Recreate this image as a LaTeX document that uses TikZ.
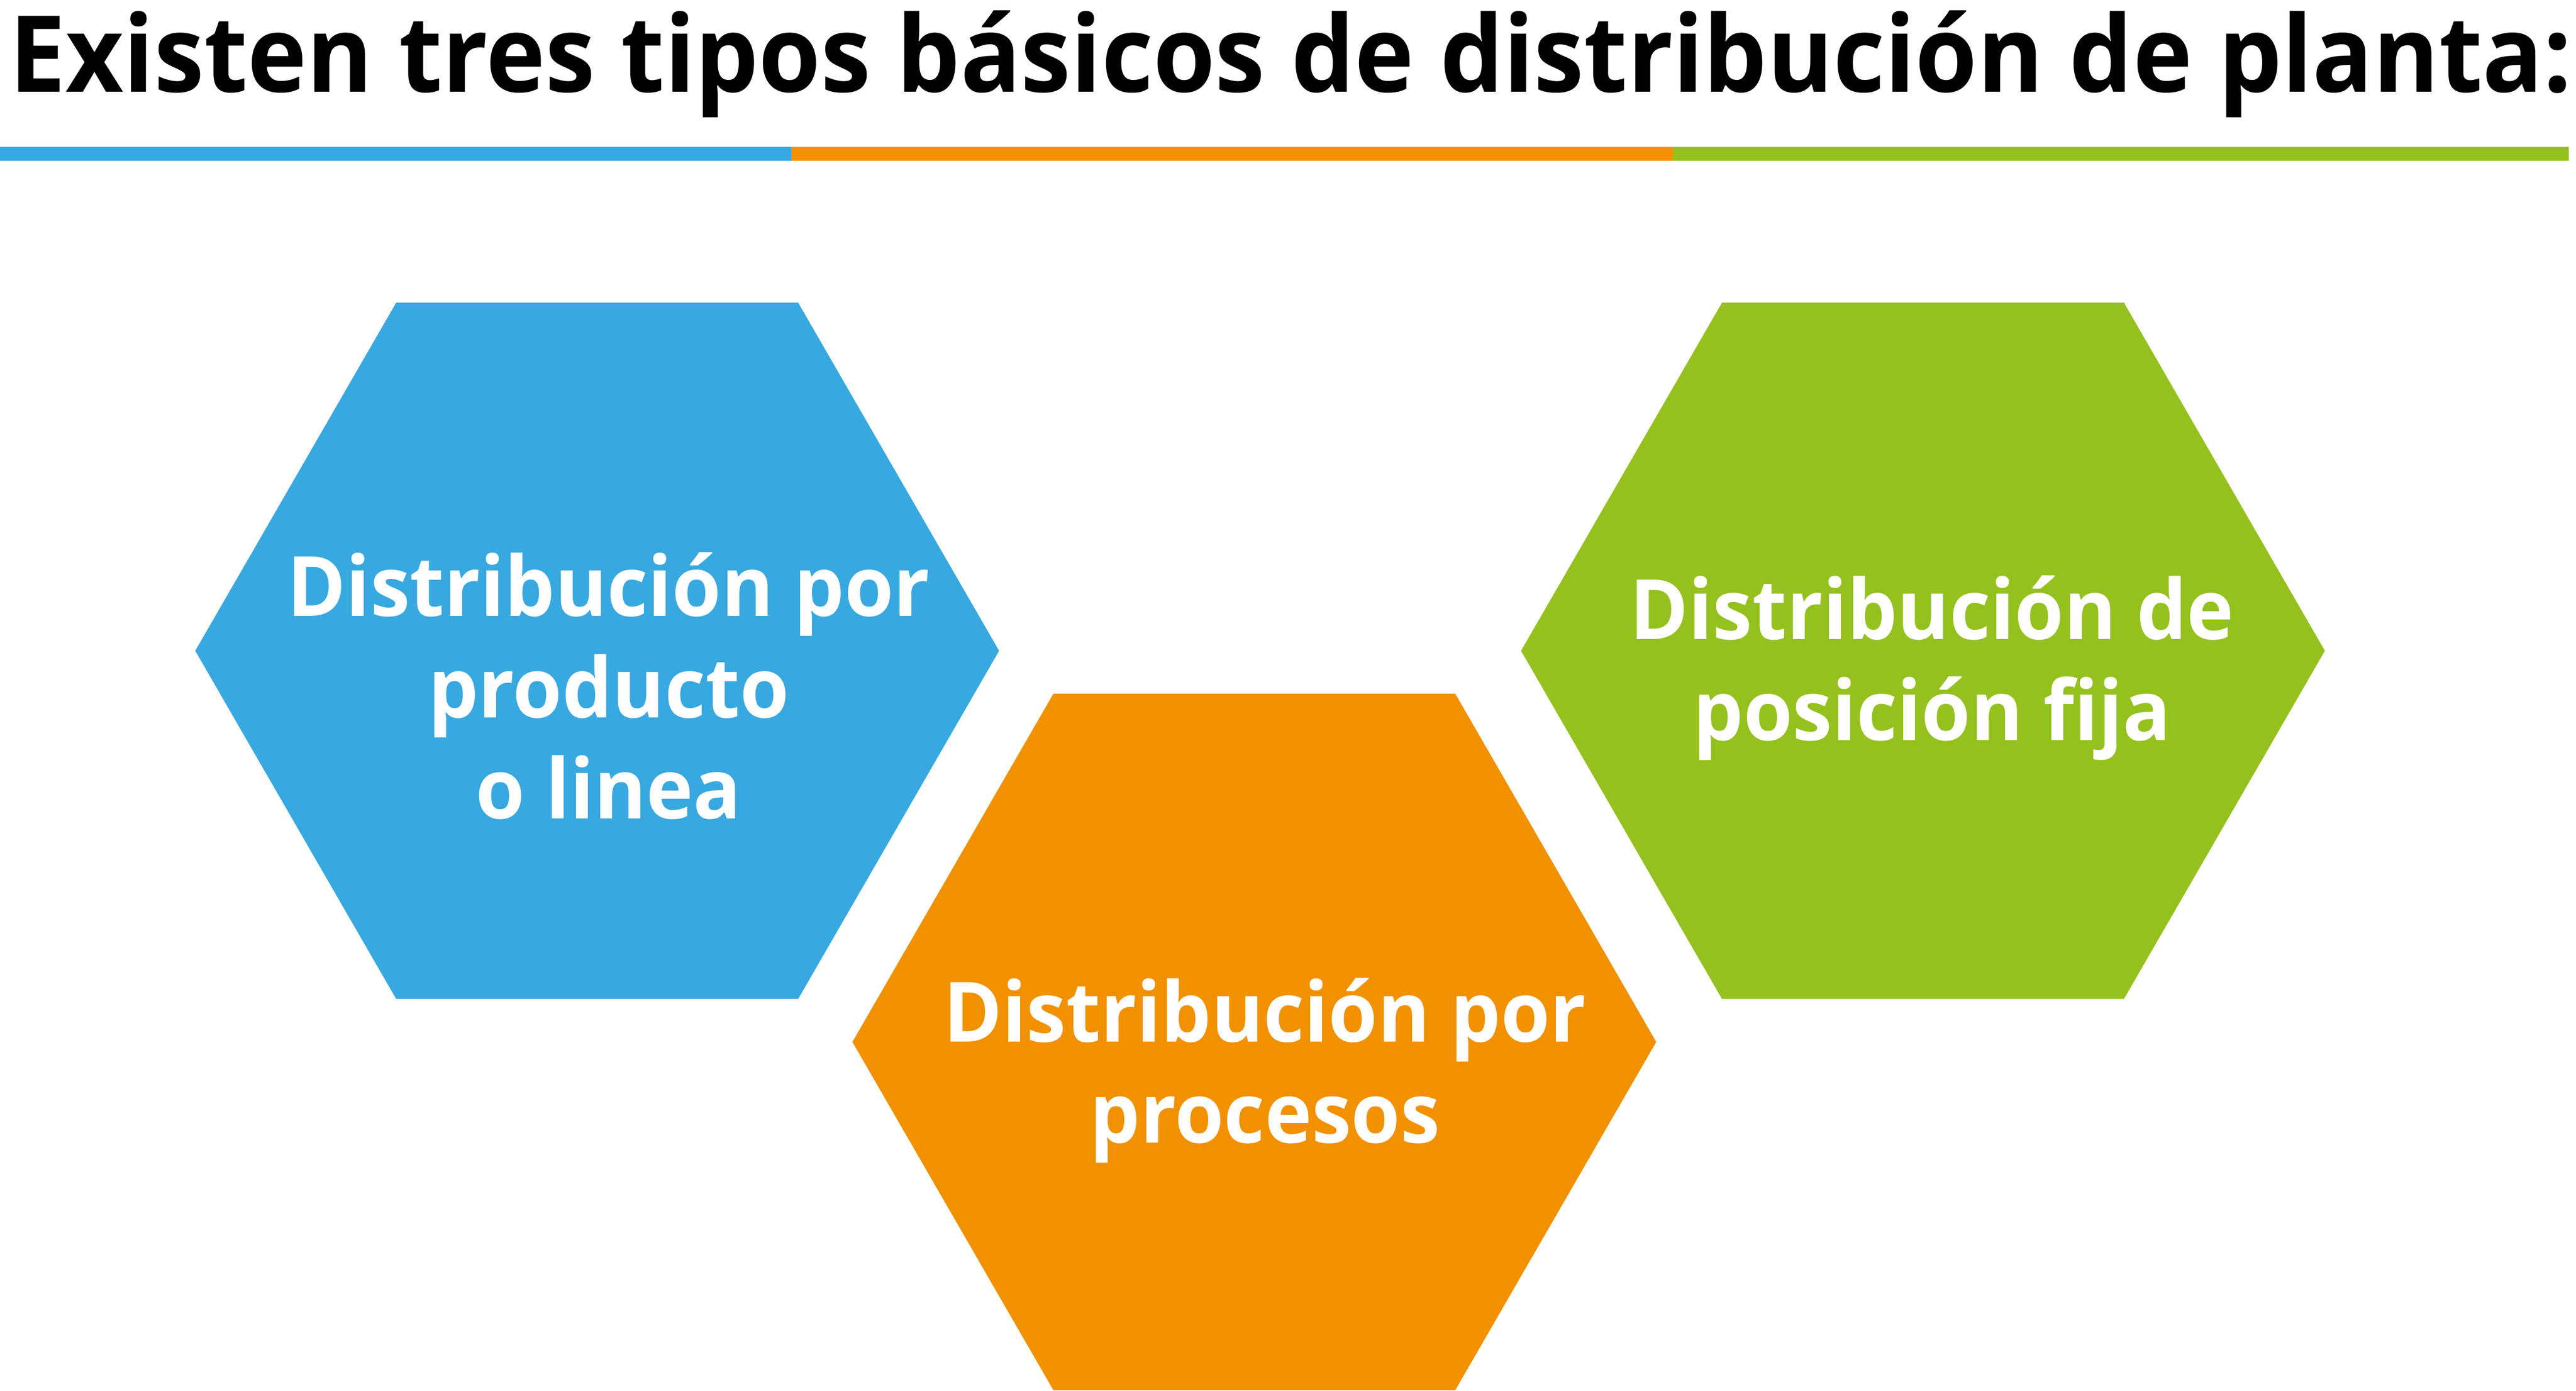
\documentclass[tikz,border=0pt]{standalone}
\usepackage{fontspec}
\setmainfont{Open Sans}[FakeStretch=0.955]
\newfontfamily\titlefont{Open Sans}[FakeStretch=0.944]
\usetikzlibrary{shapes.geometric}

\definecolor{hexblue}{RGB}{56,168,224}
\definecolor{hexorange}{RGB}{241,145,0}
\definecolor{hexgreen}{RGB}{149,193,31}

\begin{document}
\begin{tikzpicture}[x=0.01cm, y=-0.01cm,
    hexa/.style={regular polygon, regular polygon sides=6,
      minimum size=4.89cm, inner sep=0pt, outer sep=0pt},
    hextext/.style={text=white, align=center, anchor=base,
      font=\fontsize{14.4}{17.5}\selectfont\bfseries},
    bar/.style={line width=0.085cm}]
    \useasboundingbox (0,0) rectangle (1568,846.3);
    % title and coloured rule
    \node[anchor=base west, inner sep=0pt,
      font=\titlefont\fontsize{18.4}{22}\selectfont\bfseries] (title) at (5,56)
      {Existen tres tipos básicos de distribución de planta:};
    \coordinate (r0) at (0,93.5);
    \coordinate (r1) at (481.6,93.5);
    \coordinate (r2) at (1018.2,93.5);
    \coordinate (r3) at (1563.5,93.5);
    \draw[bar, hexblue] (r0) -- (r1);
    \draw[bar, hexorange] (r1) -- (r2);
    \draw[bar, hexgreen] (r2) -- (r3);
    % hexagons
    \node[hexa, fill=hexblue] (producto) at (363.5,396) {};
    \node[hexa, fill=hexorange] (procesos) at (763.5,634) {};
    \node[hexa, fill=hexgreen] (fija) at (1170.5,396) {};
    % base of each text is its last line
    \node[hextext] (productotext) at (370.5,498.1)
      {Distribución por\\producto\\o linea};
    \node[hextext] (procesostext) at (770,695.4)
      {Distribución por\\procesos};
    \node[hextext] (fijatext) at (1176,450.5)
      {Distribución de\\posición fija};
\end{tikzpicture}
\end{document}
